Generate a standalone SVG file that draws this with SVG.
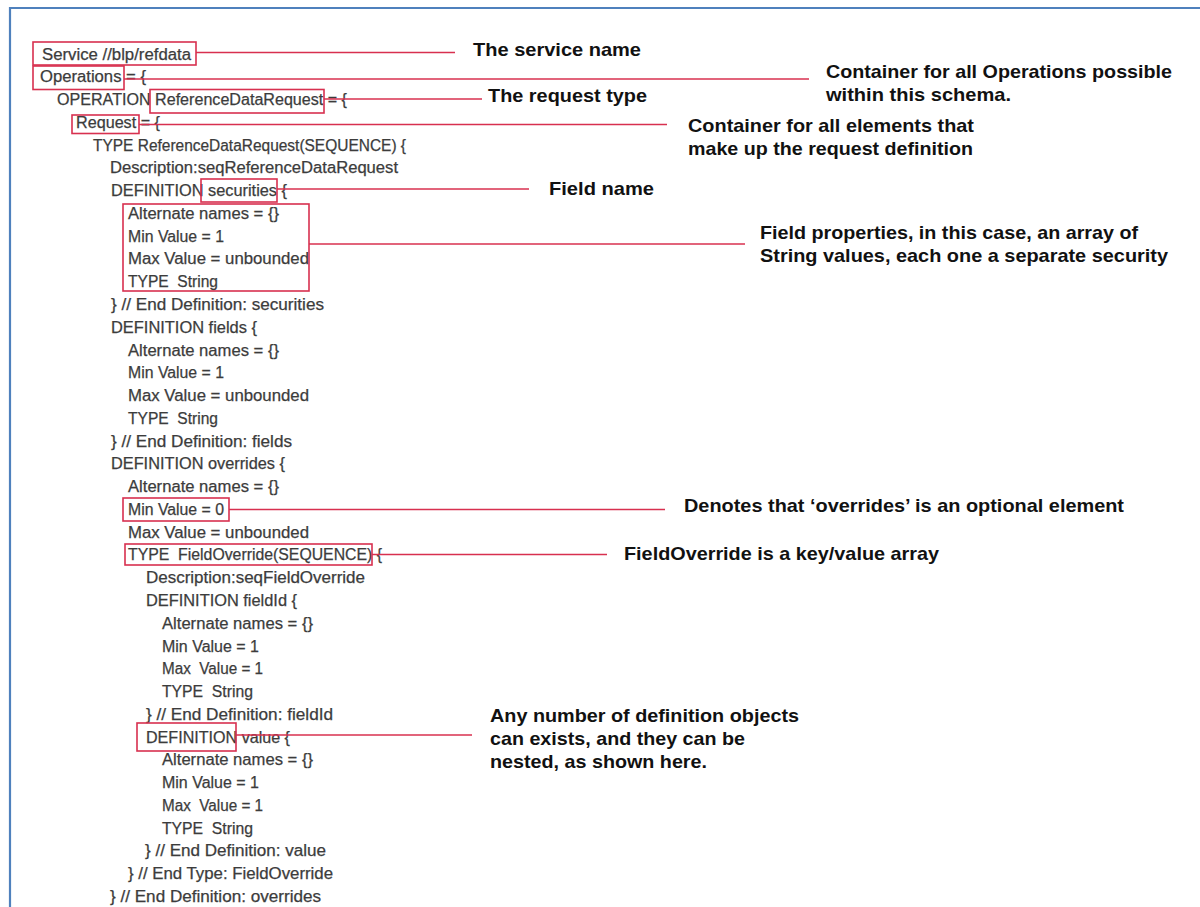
<svg xmlns="http://www.w3.org/2000/svg" width="1200" height="907" viewBox="0 0 1200 907">
  <style>
    .code { font-family: "Liberation Sans", Arial, sans-serif; font-size: 16px; fill: #3c3c3c; stroke: #3c3c3c; stroke-width: 0.25; white-space: pre; }
    .note { font-family: "Liberation Sans", Arial, sans-serif; font-size: 19px; font-weight: bold; fill: #111111; white-space: pre; }
    .box { fill: none; stroke: #d8304f; stroke-width: 1.6; }
    .lead { fill: none; stroke: #d8304f; stroke-width: 1.6; }
    .frame { fill: none; stroke: #4f81bd; stroke-width: 2.2; }
  </style>

  <rect width="1200" height="907" fill="#ffffff"/>

  <!-- page frame: left and top edges -->
  <path class="frame" d="M10,907 V8 H1200"/>

  <!-- schema listing -->
  <g id="schema-listing" class="code" xml:space="preserve">
    <text x="42" y="59.5" textLength="149" lengthAdjust="spacingAndGlyphs">Service //blp/refdata</text>
    <text x="40" y="82.3" textLength="106" lengthAdjust="spacingAndGlyphs">Operations = {</text>
    <text x="57" y="105" textLength="290" lengthAdjust="spacingAndGlyphs">OPERATION ReferenceDataRequest = {</text>
    <text x="76" y="127.8" textLength="84" lengthAdjust="spacingAndGlyphs">Request = {</text>
    <text x="93" y="150.6" textLength="313" lengthAdjust="spacingAndGlyphs">TYPE ReferenceDataRequest(SEQUENCE) {</text>
    <text x="110" y="173.4" textLength="288" lengthAdjust="spacingAndGlyphs">Description:seqReferenceDataRequest</text>
    <text x="111" y="196.1" textLength="176" lengthAdjust="spacingAndGlyphs">DEFINITION securities {</text>
    <text x="128" y="218.9" textLength="151" lengthAdjust="spacingAndGlyphs">Alternate names = {}</text>
    <text x="128" y="241.7" textLength="96" lengthAdjust="spacingAndGlyphs">Min Value = 1</text>
    <text x="128" y="264.4" textLength="181" lengthAdjust="spacingAndGlyphs">Max Value = unbounded</text>
    <text x="128" y="287.2" textLength="90" lengthAdjust="spacingAndGlyphs">TYPE&#160; String</text>
    <text x="111" y="310" textLength="213" lengthAdjust="spacingAndGlyphs">} // End Definition: securities</text>
    <text x="111" y="332.7" textLength="146" lengthAdjust="spacingAndGlyphs">DEFINITION fields {</text>
    <text x="128" y="355.5" textLength="151" lengthAdjust="spacingAndGlyphs">Alternate names = {}</text>
    <text x="128" y="378.3" textLength="96" lengthAdjust="spacingAndGlyphs">Min Value = 1</text>
    <text x="128" y="401" textLength="181" lengthAdjust="spacingAndGlyphs">Max Value = unbounded</text>
    <text x="128" y="423.8" textLength="90" lengthAdjust="spacingAndGlyphs">TYPE&#160; String</text>
    <text x="111" y="446.6" textLength="181" lengthAdjust="spacingAndGlyphs">} // End Definition: fields</text>
    <text x="111" y="469.3" textLength="174" lengthAdjust="spacingAndGlyphs">DEFINITION overrides {</text>
    <text x="128" y="492.1" textLength="151" lengthAdjust="spacingAndGlyphs">Alternate names = {}</text>
    <text x="128" y="514.9" textLength="96" lengthAdjust="spacingAndGlyphs">Min Value = 0</text>
    <text x="128" y="537.6" textLength="181" lengthAdjust="spacingAndGlyphs">Max Value = unbounded</text>
    <text x="128" y="560.4" textLength="254" lengthAdjust="spacingAndGlyphs">TYPE&#160; FieldOverride(SEQUENCE) {</text>
    <text x="146" y="583.2" textLength="219" lengthAdjust="spacingAndGlyphs">Description:seqFieldOverride</text>
    <text x="146" y="605.9" textLength="151" lengthAdjust="spacingAndGlyphs">DEFINITION fieldId {</text>
    <text x="162" y="628.7" textLength="151" lengthAdjust="spacingAndGlyphs">Alternate names = {}</text>
    <text x="162" y="651.5" textLength="97" lengthAdjust="spacingAndGlyphs">Min Value = 1</text>
    <text x="162" y="674.2" textLength="101" lengthAdjust="spacingAndGlyphs">Max&#160; Value = 1</text>
    <text x="162" y="697" textLength="91" lengthAdjust="spacingAndGlyphs">TYPE&#160; String</text>
    <text x="146" y="719.8" textLength="187" lengthAdjust="spacingAndGlyphs">} // End Definition: fieldId</text>
    <text x="146" y="742.5" textLength="144" lengthAdjust="spacingAndGlyphs">DEFINITION value {</text>
    <text x="162" y="765.3" textLength="151" lengthAdjust="spacingAndGlyphs">Alternate names = {}</text>
    <text x="162" y="788.1" textLength="97" lengthAdjust="spacingAndGlyphs">Min Value = 1</text>
    <text x="162" y="810.8" textLength="101" lengthAdjust="spacingAndGlyphs">Max&#160; Value = 1</text>
    <text x="162" y="833.6" textLength="91" lengthAdjust="spacingAndGlyphs">TYPE&#160; String</text>
    <text x="145" y="856.4" textLength="181" lengthAdjust="spacingAndGlyphs">} // End Definition: value</text>
    <text x="128" y="879.1" textLength="205" lengthAdjust="spacingAndGlyphs">} // End Type: FieldOverride</text>
    <text x="110" y="901.9" textLength="211" lengthAdjust="spacingAndGlyphs">} // End Definition: overrides</text>
  </g>

  <!-- leader lines from highlighted items to their notes -->
  <g id="connectors" class="lead">
    <line x1="196" y1="52.5" x2="455" y2="52.5"/>
    <line x1="124" y1="79" x2="809" y2="79"/>
    <line x1="324" y1="99" x2="482" y2="99"/>
    <line x1="139" y1="124.5" x2="667" y2="124.5"/>
    <line x1="277" y1="189" x2="529" y2="189"/>
    <line x1="309" y1="244" x2="745" y2="244"/>
    <line x1="229" y1="509.5" x2="665" y2="509.5"/>
    <line x1="372" y1="554.5" x2="607" y2="554.5"/>
    <line x1="236" y1="735" x2="472" y2="735"/>
  </g>

  <g id="service-name">
    <rect class="box" x="33" y="42" width="163" height="23"/>
    <text class="note" x="473" y="56" textLength="168" lengthAdjust="spacingAndGlyphs">The service name</text>
  </g>

  <g id="operations-container">
    <rect class="box" x="33" y="66" width="91" height="23.5"/>
    <text class="note" x="826" y="78" textLength="346" lengthAdjust="spacingAndGlyphs">Container for all Operations possible</text>
    <text class="note" x="826" y="101" textLength="185" lengthAdjust="spacingAndGlyphs">within this schema.</text>
  </g>

  <g id="request-type">
    <rect class="box" x="150" y="89.5" width="174" height="23.5"/>
    <text class="note" x="488" y="102" textLength="159" lengthAdjust="spacingAndGlyphs">The request type</text>
  </g>

  <g id="request-container">
    <rect class="box" x="72" y="115" width="67" height="18.5"/>
    <text class="note" x="688" y="132" textLength="286" lengthAdjust="spacingAndGlyphs">Container for all elements that</text>
    <text class="note" x="688" y="155" textLength="285" lengthAdjust="spacingAndGlyphs">make up the request definition</text>
  </g>

  <g id="field-name">
    <rect class="box" x="201" y="179" width="76" height="23"/>
    <text class="note" x="549" y="195" textLength="105" lengthAdjust="spacingAndGlyphs">Field name</text>
  </g>

  <g id="field-properties">
    <rect class="box" x="123" y="204" width="186" height="87"/>
    <text class="note" x="760" y="239" textLength="378" lengthAdjust="spacingAndGlyphs">Field properties, in this case, an array of</text>
    <text class="note" x="760" y="262" textLength="408" lengthAdjust="spacingAndGlyphs">String values, each one a separate security</text>
  </g>

  <g id="optional-element">
    <rect class="box" x="123" y="498" width="106" height="23"/>
    <text class="note" x="684" y="512" textLength="440" lengthAdjust="spacingAndGlyphs">Denotes that ‘overrides’ is an optional element</text>
  </g>

  <g id="key-value-array">
    <rect class="box" x="125" y="544" width="247" height="21"/>
    <text class="note" x="624" y="560" textLength="315" lengthAdjust="spacingAndGlyphs">FieldOverride is a key/value array</text>
  </g>

  <g id="nested-definitions">
    <rect class="box" x="137" y="723" width="99" height="28"/>
    <text class="note" x="490" y="722" textLength="309" lengthAdjust="spacingAndGlyphs">Any number of definition objects</text>
    <text class="note" x="490" y="745" textLength="255" lengthAdjust="spacingAndGlyphs">can exists, and they can be</text>
    <text class="note" x="490" y="768" textLength="217" lengthAdjust="spacingAndGlyphs">nested, as shown here.</text>
  </g>
</svg>
